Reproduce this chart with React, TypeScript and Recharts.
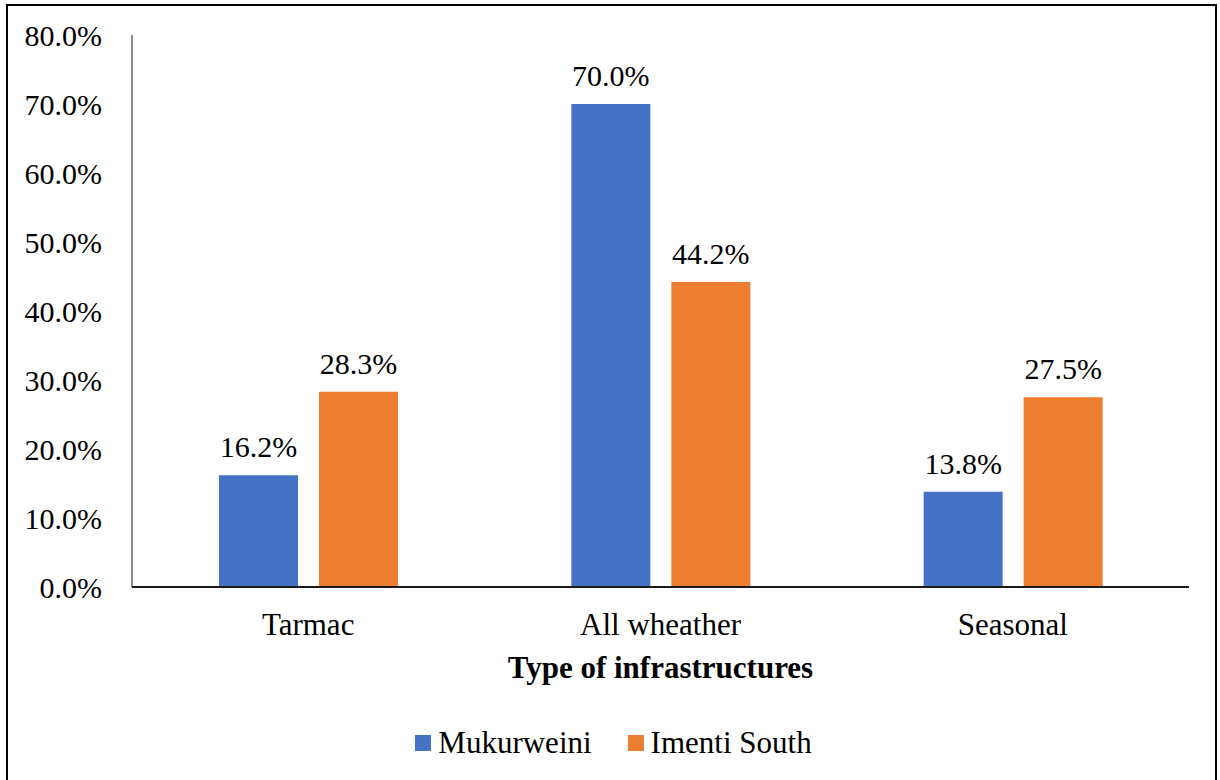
import { BarChart, Bar, XAxis, YAxis, Legend, LabelList } from 'recharts';

const categories = ['Tarmac', 'All wheather', 'Seasonal'];
const mukurweini = [16.2, 70.0, 13.8];
const imentiSouth = [28.3, 44.2, 27.5];
const yTicks = [0, 10, 20, 30, 40, 50, 60, 70, 80];

const BLUE = '#4472C4';
const ORANGE = '#ED7D31';
const FONT = 'Liberation Serif, Times New Roman, serif';

const series = [
  { key: 'mukurweini', name: 'Mukurweini', color: BLUE },
  { key: 'imentiSouth', name: 'Imenti South', color: ORANGE },
];

const data = categories.map((name, i) => ({
  name,
  mukurweini: mukurweini[i],
  imentiSouth: imentiSouth[i],
}));

const pct = (v: any) => `${Number(v).toFixed(1)}%`;

// legend keeps the series order instead of recharts' alphabetical sort
const LegendContent = () => (
  <div
    style={{
      display: 'flex',
      justifyContent: 'center',
      alignItems: 'center',
      gap: 36,
      paddingLeft: 7,
      height: 36,
      fontFamily: FONT,
      fontSize: 31,
      color: '#000',
    }}
  >
    {series.map((s) => (
      <div key={s.key} style={{ display: 'flex', alignItems: 'center' }}>
        <span style={{ width: 16, height: 16, background: s.color, marginRight: 7 }} />
        <span>{s.name}</span>
      </div>
    ))}
  </div>
);

const labelStyle = { fontSize: 30, fill: '#000', fontFamily: FONT };

export default function App() {
  return (
    <div
      style={{
        position: 'absolute',
        left: 0,
        top: 0,
        width: 1220,
        height: 780,
        overflow: 'hidden',
        background: '#fff',
        fontFamily: FONT,
      }}
    >
      {/* frame around the figure, open at the bottom */}
      <div
        style={{
          position: 'absolute',
          left: 6,
          top: 4,
          width: 1211,
          height: 800,
          boxSizing: 'border-box',
          border: '2px solid #000',
        }}
      />
      <div style={{ position: 'absolute', left: 0, top: 0 }}>
        <BarChart
          width={1220}
          height={780}
          data={data}
          margin={{ top: 35, right: 31, bottom: 97, left: 32 }}
          barSize={79}
          barGap={21}
          style={{ fontFamily: FONT }}
        >
          <XAxis
            dataKey="name"
            height={96}
            axisLine={{ stroke: '#1a1a1a', strokeWidth: 2 }}
            tickLine={false}
            tickSize={0}
            tickMargin={26}
            tick={{ fontSize: 31, fill: '#000', fontFamily: FONT }}
            label={{
              value: 'Type of infrastructures',
              position: 'insideBottom',
              offset: 5,
              style: { fontSize: 31, fontWeight: 'bold', fill: '#000', fontFamily: FONT },
            }}
          />
          <YAxis
            width={100}
            domain={[0, 80]}
            ticks={yTicks}
            interval={0}
            axisLine={{ stroke: '#1a1a1a', strokeWidth: 1 }}
            tickLine={false}
            tickSize={0}
            tickMargin={30}
            tickFormatter={pct}
            tick={{ fontSize: 30, fill: '#000', fontFamily: FONT }}
          />
          <Legend
            verticalAlign="middle"
            align="center"
            layout="horizontal"
            wrapperStyle={{ top: 725, left: 0, width: 1220 }}
            content={<LegendContent />}
          />
          {series.map((s) => (
            <Bar key={s.key} dataKey={s.key} name={s.name} fill={s.color} isAnimationActive={false}>
              <LabelList
                dataKey={s.key}
                position="top"
                offset={18}
                formatter={pct}
                style={labelStyle}
              />
            </Bar>
          ))}
        </BarChart>
      </div>
    </div>
  );
}
